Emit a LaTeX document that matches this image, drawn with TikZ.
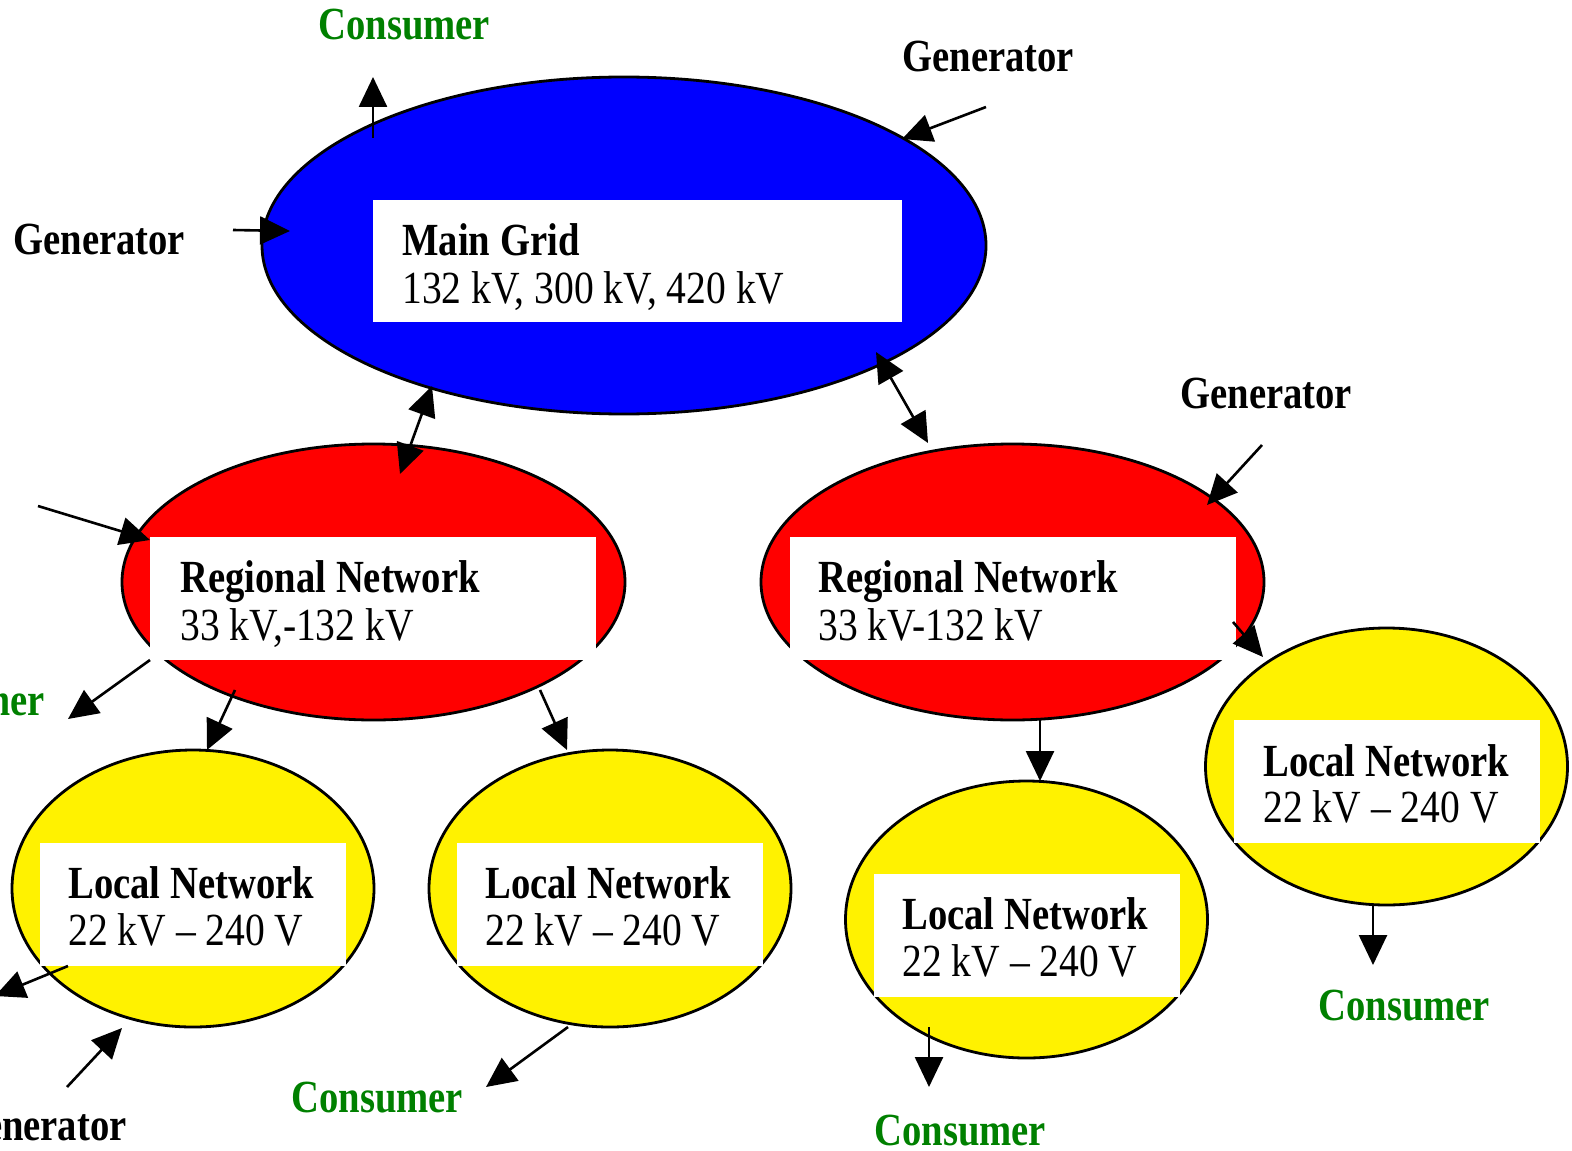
\documentclass[tikz,border=0pt]{standalone}
\usepackage{fontspec}
\setmainfont{Liberation Serif}[FakeStretch=0.86,BoldFeatures={FakeStretch=0.84}]
\usetikzlibrary{shapes.geometric,arrows.meta}
\definecolor{cgreen}{RGB}{0,128,0}
\begin{document}
\begin{tikzpicture}[x=0.5pt,y=-0.5pt,
  lbl/.style={font=\fontsize{23}{25}\selectfont\bfseries, inner sep=0pt, anchor=base west},
  val/.style={font=\fontsize{23}{25}\selectfont, inner sep=0pt, anchor=base west},
  ell/.style={ellipse, draw=black, line width=1.4pt, inner sep=0pt},
  wbox/.style={fill=white, inner sep=0pt, anchor=north west, minimum height=61.5pt},
  arr/.style={line width=1.3pt, -{Triangle[length=15pt,width=14pt]}},
  darr/.style={line width=1.3pt, {Triangle[length=15pt,width=14pt]}-{Triangle[length=15pt,width=14pt]}},
  cons/.style={lbl, text=cgreen}]
\useasboundingbox (0,0) rectangle (1572,1150);
\clip (0,0) rectangle (1572,1150);
% ellipses
\node[ell, fill=blue, minimum width=362pt, minimum height=168.5pt] (mg) at (624,245.5) {};
\node[ell, fill=red, minimum width=251.5pt, minimum height=138pt] (rl) at (373.5,582) {};
\node[ell, fill=red, minimum width=251.5pt, minimum height=138pt] (rr) at (1012.5,582) {};
\node[ell, fill=yellow, minimum width=181pt, minimum height=138.5pt] (l1) at (193,888.5) {};
\node[ell, fill=yellow, minimum width=181pt, minimum height=138.5pt] (l2) at (610,888.5) {};
\node[ell, fill=yellow, minimum width=181pt, minimum height=138.5pt] (l3) at (1026.5,919.5) {};
\node[ell, fill=yellow, minimum width=181pt, minimum height=138.5pt] (l4) at (1386.5,766.5) {};
% white boxes
\node[wbox, minimum width=264.5pt, minimum height=61pt] (bmg) at (373,200) {};
\node[wbox, minimum width=223pt] (brl) at (150,537) {};
\node[wbox, minimum width=223pt] (brr) at (790,537) {};
\node[wbox, minimum width=153pt] (bl1) at (40,843) {};
\node[wbox, minimum width=153pt] (bl2) at (457,843) {};
\node[wbox, minimum width=153pt] (bl3) at (874,874) {};
\node[wbox, minimum width=153pt] (bl4) at (1234,720) {};
% texts
\node[lbl] (tmg) at (402,256) {Main Grid};
\node[val] (vmg) at (402,303) {132 kV, 300 kV, 420 kV};
\node[lbl] (trl) at (180,592) {Regional Network};
\node[val] (vrl) at (180,640) {33 kV,-132 kV};
\node[lbl] (trr) at (818,592) {Regional Network};
\node[val] (vrr) at (818,640) {33 kV-132 kV};
\node[lbl] (tl1) at (68,898) {Local Network};
\node[val] (vl1) at (68,945) {22 kV – 240 V};
\node[lbl] (tl2) at (485,898) {Local Network};
\node[val] (vl2) at (485,945) {22 kV – 240 V};
\node[lbl] (tl3) at (902,929) {Local Network};
\node[val] (vl3) at (902,976) {22 kV – 240 V};
\node[lbl] (tl4) at (1263,776) {Local Network};
\node[val] (vl4) at (1263,822) {22 kV – 240 V};
% outer labels
\node[cons] (c1) at (318,40) {Consumer};
\node[lbl] (g1) at (902,72) {Generator};
\node[lbl] (g2) at (13,255) {Generator};
\node[lbl] (g3) at (1180,408) {Generator};
\node[cons, anchor=base east] (c2) at (45,715) {Consumer};
\node[lbl, anchor=base east] (g4) at (127,1140) {Generator};
\node[cons] (c3) at (291,1112) {Consumer};
\node[cons] (c4) at (874,1145) {Consumer};
\node[cons] (c5) at (1318,1020) {Consumer};
% connector end points
\coordinate (a1s) at (373,138);  \coordinate (a1e) at (373,77);
\coordinate (a2s) at (986,107);  \coordinate (a2e) at (902,139);
\coordinate (a3s) at (233,230);  \coordinate (a3e) at (290,231);
\coordinate (a4s) at (432,386);  \coordinate (a4e) at (400,474);
\coordinate (a5s) at (876,352);  \coordinate (a5e) at (928,443);
\coordinate (a6s) at (1262,445); \coordinate (a6e) at (1207,505);
\coordinate (a7s) at (38,506);   \coordinate (a7e) at (150,540);
\coordinate (a8s) at (150,660);  \coordinate (a8e) at (68,719);
\coordinate (a9s) at (235,690);  \coordinate (a9e) at (207,750);
\coordinate (a10s) at (540,690); \coordinate (a10e) at (567,750);
\coordinate (a11s) at (1040,720); \coordinate (a11e) at (1040,781);
\coordinate (a12s) at (1233,622); \coordinate (a12e) at (1263,657);
\coordinate (a13s) at (68,966);  \coordinate (a13e) at (-5,996);
\coordinate (a14s) at (67,1087); \coordinate (a14e) at (122,1028);
\coordinate (a15s) at (568,1027); \coordinate (a15e) at (486,1087);
\coordinate (a16s) at (929,1027); \coordinate (a16e) at (929,1087);
\coordinate (a17s) at (1373,905); \coordinate (a17e) at (1373,965);
% connectors
\draw[arr] (a1s) -- (a1e);
\draw[arr] (a2s) -- (a2e);
\draw[arr] (a3s) -- (a3e);
\draw[darr] (a4s) -- (a4e);
\draw[darr] (a5s) -- (a5e);
\draw[arr] (a6s) -- (a6e);
\draw[arr] (a7s) -- (a7e);
\draw[arr] (a8s) -- (a8e);
\draw[arr] (a9s) -- (a9e);
\draw[arr] (a10s) -- (a10e);
\draw[arr] (a11s) -- (a11e);
\draw[arr] (a12s) -- (a12e);
\draw[arr] (a13s) -- (a13e);
\draw[arr] (a14s) -- (a14e);
\draw[arr] (a15s) -- (a15e);
\draw[arr] (a16s) -- (a16e);
\draw[arr] (a17s) -- (a17e);
\end{tikzpicture}
\end{document}
